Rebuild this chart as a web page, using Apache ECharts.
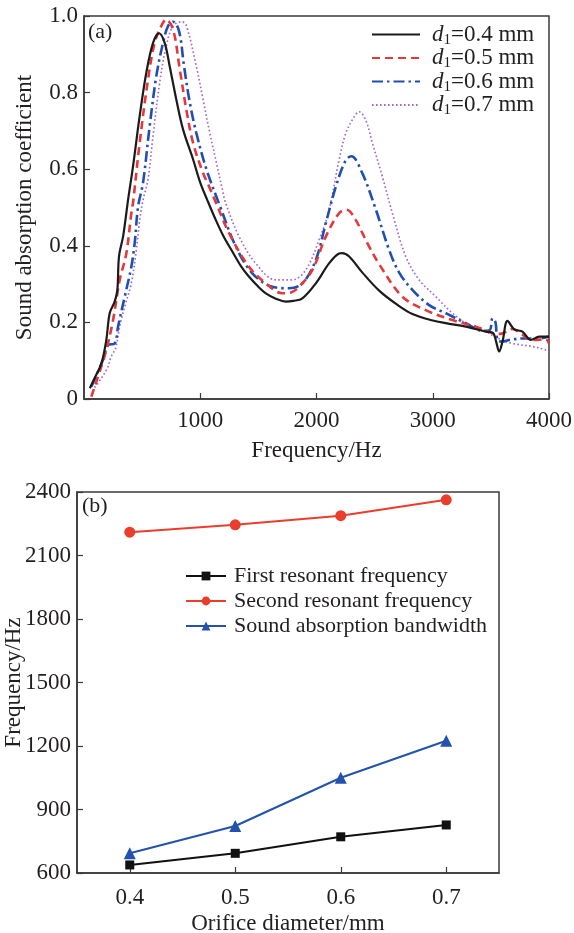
<!DOCTYPE html>
<html>
<head>
<meta charset="utf-8">
<script src="https://cdn.jsdelivr.net/npm/echarts@6/dist/echarts.min.js"></script>
<style>
  html, body { margin: 0; padding: 0; background: #fff; }
  #chart { width: 574px; height: 933px; }
</style>
</head>
<body>
<div id="chart"></div>
<script>
// ---- (a) sound absorption coefficient spectra for four orifice diameters ----
const freq04 = [50, 100, 150, 192, 221, 264, 287, 301, 336, 364, 379, 422, 479, 536, 594, 645, 694, 737, 794, 852, 938, 1000, 1060, 1130, 1200, 1276, 1350, 1420, 1500, 1564, 1650, 1736, 1800, 1879, 1994, 2108, 2194, 2220, 2281, 2395, 2539, 2700, 2825, 3000, 3112, 3285, 3457, 3520, 3545, 3571, 3600, 3643, 3701, 3772, 3844, 3916, 4000];
const alpha04 = [0.028, 0.06, 0.093, 0.154, 0.224, 0.254, 0.285, 0.372, 0.424, 0.485, 0.52, 0.608, 0.739, 0.852, 0.930, 0.955, 0.93, 0.869, 0.782, 0.704, 0.626, 0.565, 0.52, 0.47, 0.425, 0.385, 0.347, 0.319, 0.293, 0.276, 0.262, 0.254, 0.256, 0.263, 0.302, 0.354, 0.38, 0.381, 0.372, 0.33, 0.283, 0.245, 0.222, 0.205, 0.198, 0.189, 0.176, 0.172, 0.15, 0.124, 0.15, 0.204, 0.182, 0.176, 0.154, 0.163, 0.163];

const freq05 = [63, 120, 192, 250, 307, 364, 407, 422, 479, 551, 608, 665, 705, 766, 824, 880, 938, 1024, 1076, 1139, 1248, 1420, 1564, 1707, 1780, 1850, 1965, 2080, 2194, 2260, 2338, 2395, 2453, 2539, 2739, 2940, 3170, 3371, 3514, 3580, 3686, 3760, 3858, 3973, 4000];
const alpha05 = [0.006, 0.058, 0.128, 0.206, 0.311, 0.38, 0.485, 0.513, 0.669, 0.835, 0.930, 0.974, 0.991, 0.965, 0.861, 0.756, 0.669, 0.59, 0.555, 0.51, 0.433, 0.345, 0.302, 0.276, 0.278, 0.293, 0.337, 0.424, 0.485, 0.494, 0.467, 0.433, 0.398, 0.352, 0.267, 0.232, 0.206, 0.189, 0.172, 0.17, 0.183, 0.17, 0.154, 0.156, 0.145];

const freq06 = [63, 163, 207, 264, 293, 350, 407, 436, 465, 508, 565, 622, 680, 723, 766, 818, 860, 910, 966, 1053, 1168, 1306, 1448, 1620, 1764, 1879, 1994, 2080, 2166, 2252, 2300, 2395, 2510, 2625, 2711, 2825, 2969, 3112, 3285, 3428, 3490, 3514, 3540, 3557, 3600, 3657, 3772, 3916, 4000];
const alpha06 = [0.032, 0.102, 0.141, 0.145, 0.189, 0.267, 0.345, 0.407, 0.502, 0.565, 0.713, 0.843, 0.930, 0.974, 0.985, 0.96, 0.87, 0.774, 0.695, 0.6, 0.505, 0.398, 0.328, 0.293, 0.289, 0.302, 0.363, 0.459, 0.554, 0.624, 0.634, 0.589, 0.495, 0.389, 0.33, 0.285, 0.245, 0.224, 0.198, 0.178, 0.18, 0.211, 0.2, 0.154, 0.15, 0.154, 0.158, 0.158, 0.163];

const freq07 = [90, 120, 200, 232, 250, 275, 307, 350, 407, 450, 479, 508, 551, 594, 651, 708, 766, 840, 880, 966, 1024, 1082, 1139, 1196, 1219, 1334, 1478, 1650, 1793, 1908, 2022, 2108, 2194, 2252, 2324, 2367, 2424, 2481, 2567, 2653, 2768, 2883, 3027, 3170, 3313, 3457, 3550, 3686, 3858, 3973, 4000];
const alpha07 = [0.03, 0.041, 0.08, 0.11, 0.119, 0.135, 0.189, 0.241, 0.302, 0.389, 0.467, 0.52, 0.574, 0.687, 0.826, 0.922, 0.974, 0.985, 0.975, 0.869, 0.782, 0.695, 0.617, 0.539, 0.511, 0.424, 0.354, 0.311, 0.311, 0.337, 0.415, 0.493, 0.624, 0.694, 0.737, 0.75, 0.728, 0.668, 0.58, 0.485, 0.372, 0.311, 0.267, 0.224, 0.193, 0.176, 0.16, 0.145, 0.137, 0.128, 0.125];

const spectrumNames = ['d1=0.4 mm', 'd1=0.5 mm', 'd1=0.6 mm', 'd1=0.7 mm'];

// ---- (b) characteristic frequencies versus orifice diameter ----
const diameters = [0.4, 0.5, 0.6, 0.7];
const firstResonance = [638, 693, 771, 827];
const secondResonance = [2210, 2245, 2288, 2363];
const absorptionBandwidth = [693, 822, 1050, 1225];
const trendNames = ['First resonant frequency', 'Second resonant frequency', 'Sound absorption bandwidth'];
const diameterTicks = [0.4, 0.5, 0.6, 0.7];

const zip = (xs, ys) => xs.map((x, i) => [x, ys[i]]);

const FONT = '"Liberation Serif", "Times New Roman", serif';
const TXT = '#231f20';
const AXIS = '#3a3a3a';

const axisCommon = {
  nameMoveOverlap: false,
  axisLine: { show: true, lineStyle: { color: AXIS, width: 1.5 } },
  axisTick: { show: true, inside: true, length: 6, lineStyle: { color: AXIS, width: 1.2 } },
  splitLine: { show: false },
  axisLabel: { color: TXT, fontFamily: FONT, fontSize: 23 },
  nameTextStyle: { color: TXT, fontFamily: FONT, fontSize: 23 }
};

const chart = echarts.init(document.getElementById('chart'), null, { renderer: 'canvas' });

const spectrumStyles = [
  { color: '#1b1b1b', width: 2.2, type: 'solid' },
  { color: '#e5383b', width: 2.6, type: [8, 5] },
  { color: '#1f4fb4', width: 2.6, type: [11, 4, 2.5, 4] },
  { color: '#a468d0', width: 1.7, type: [1.6, 2.4] }
];
const spectra = [zip(freq04, alpha04), zip(freq05, alpha05), zip(freq06, alpha06), zip(freq07, alpha07)];

const option = {
  backgroundColor: '#fff',
  animation: false,
  grid: [
    { left: 84, top: 16, width: 465, height: 383, show: true, borderColor: AXIS, borderWidth: 1.5, backgroundColor: 'transparent', containLabel: false, outerBoundsMode: 'none' },
    { left: 77, top: 492, width: 422, height: 381, show: true, borderColor: AXIS, borderWidth: 1.5, backgroundColor: 'transparent', containLabel: false, outerBoundsMode: 'none' }
  ],
  xAxis: [
    Object.assign({}, axisCommon, {
      gridIndex: 0, type: 'value', min: 0, max: 4000, interval: 1000,
      name: 'Frequency/Hz', nameLocation: 'middle', nameGap: 40,
      axisLabel: Object.assign({}, axisCommon.axisLabel, { showMinLabel: false, margin: 10, formatter: v => String(v) })
    }),
    Object.assign({}, axisCommon, {
      gridIndex: 1, type: 'value', min: 0.35, max: 0.75,
      name: 'Orifice diameter/mm', nameLocation: 'middle', nameGap: 39,
      axisTick: Object.assign({}, axisCommon.axisTick, { customValues: diameterTicks }),
      axisLabel: Object.assign({}, axisCommon.axisLabel, { customValues: diameterTicks, margin: 13, formatter: v => v.toFixed(1) })
    })
  ],
  yAxis: [
    Object.assign({}, axisCommon, {
      gridIndex: 0, type: 'value', min: 0, max: 1, interval: 0.2,
      name: 'Sound absorption coefficient', nameLocation: 'middle', nameGap: 48,
      axisLabel: Object.assign({}, axisCommon.axisLabel, { margin: 6, formatter: v => (v === 0 ? '0' : v.toFixed(1)) })
    }),
    Object.assign({}, axisCommon, {
      gridIndex: 1, type: 'value', min: 600, max: 2400, interval: 300,
      name: 'Frequency/Hz', nameLocation: 'middle', nameGap: 52,
      axisLabel: Object.assign({}, axisCommon.axisLabel, { margin: 6, formatter: v => String(v) })
    })
  ],
  legend: [
    {
      data: spectrumNames,
      orient: 'vertical', left: 371, top: 23, padding: 0, itemGap: -1,
      itemWidth: 48, itemHeight: 12,
      itemStyle: { opacity: 0 },
      formatter: name => '{d|d}{s|1}{t|' + name.slice(2) + '}',
      textStyle: {
        color: TXT, fontFamily: FONT, fontSize: 23, padding: [0, 0, 0, 7],
        rich: {
          d: { fontFamily: FONT, fontSize: 23, fontStyle: 'italic', color: TXT, lineHeight: 26, verticalAlign: 'middle' },
          s: { fontFamily: FONT, fontSize: 15, color: TXT, lineHeight: 15, verticalAlign: 'bottom' },
          t: { fontFamily: FONT, fontSize: 23, color: TXT, lineHeight: 26, verticalAlign: 'middle' }
        }
      }
    },
    {
      data: trendNames,
      orient: 'vertical', left: 185, top: 565, padding: 0, itemGap: 3,
      itemWidth: 40, itemHeight: 11,
      textStyle: { color: TXT, fontFamily: FONT, fontSize: 22, padding: [0, 0, 0, 3] }
    }
  ],
  graphic: [
    { type: 'text', left: 88, top: 21, style: { text: '(a)', font: '22px ' + FONT, fill: TXT } },
    { type: 'text', left: 82, top: 495, style: { text: '(b)', font: '22px ' + FONT, fill: TXT } }
  ],
  series: [
    ...spectra.map((d, i) => ({
      name: spectrumNames[i], type: 'line', xAxisIndex: 0, yAxisIndex: 0,
      data: d, smooth: 0.35, symbol: 'none', showSymbol: false,
      lineStyle: spectrumStyles[i], itemStyle: { color: spectrumStyles[i].color },
      z: 10 - i
    })),
    {
      name: trendNames[0], type: 'line', xAxisIndex: 1, yAxisIndex: 1,
      data: zip(diameters, firstResonance), symbol: 'rect', symbolSize: 9,
      lineStyle: { color: '#111', width: 2 }, itemStyle: { color: '#111' }
    },
    {
      name: trendNames[1], type: 'line', xAxisIndex: 1, yAxisIndex: 1,
      data: zip(diameters, secondResonance), symbol: 'circle', symbolSize: 11,
      lineStyle: { color: '#ea3d2c', width: 2 }, itemStyle: { color: '#ea3d2c' }
    },
    {
      name: trendNames[2], type: 'line', xAxisIndex: 1, yAxisIndex: 1,
      data: zip(diameters, absorptionBandwidth), symbol: 'triangle', symbolSize: 12,
      lineStyle: { color: '#2352ae', width: 2 }, itemStyle: { color: '#2352ae' }
    }
  ]
};

chart.setOption(option);
</script>
</body>
</html>
